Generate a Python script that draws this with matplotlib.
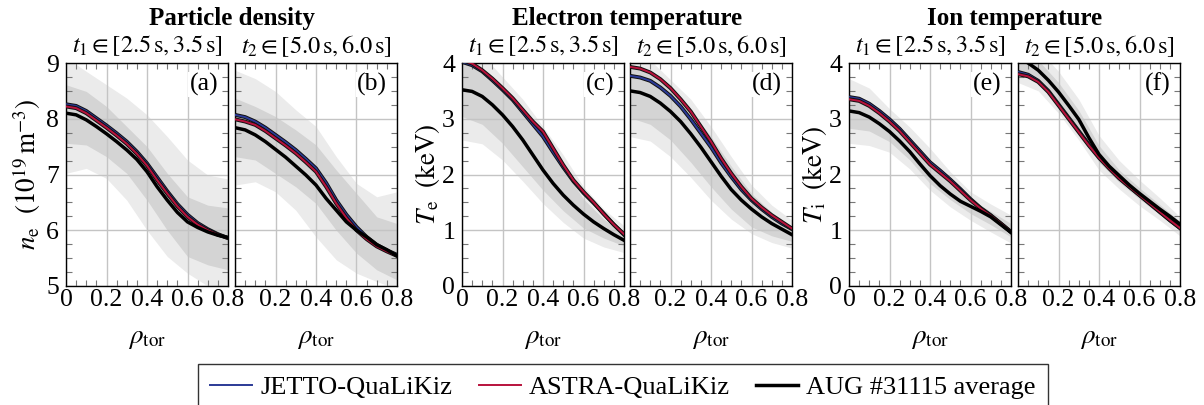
import numpy as np
import matplotlib
matplotlib.use("Agg")
import matplotlib.pyplot as plt
import matplotlib.patheffects as pe
from matplotlib.lines import Line2D
from matplotlib.ticker import MultipleLocator

# Font tipo Times per testo e formule
plt.rcParams['font.family'] = 'serif'
plt.rcParams['font.serif'] = ['Liberation Serif', 'DejaVu Serif']
plt.rcParams['mathtext.fontset'] = 'stix'

# Griglia radiale
rho = [0.0, 0.05, 0.1, 0.15, 0.2, 0.25, 0.3, 0.35, 0.4, 0.45, 0.5, 0.55, 0.6, 0.65, 0.7, 0.75, 0.8]
rho_band = [0.0, 0.1, 0.2, 0.3, 0.4, 0.5, 0.6, 0.7, 0.8]

# (a) densita', t1
ne1_jetto = [8.26, 8.23, 8.14, 8.01, 7.88, 7.74, 7.59, 7.41, 7.20, 6.95, 6.70, 6.47, 6.28, 6.13, 6.02, 5.93, 5.86]
ne1_astra = [8.22, 8.19, 8.10, 7.97, 7.84, 7.70, 7.55, 7.37, 7.16, 6.90, 6.66, 6.43, 6.24, 6.10, 6.00, 5.92, 5.86]
ne1_aug = [8.10, 8.07, 7.98, 7.86, 7.73, 7.59, 7.44, 7.27, 7.05, 6.78, 6.54, 6.32, 6.15, 6.05, 5.97, 5.91, 5.87]
ne1_out_hi = [9.10, 8.85, 8.61, 8.37, 8.07, 7.68, 7.26, 6.99, 6.92]
ne1_in_hi = [8.61, 8.49, 8.22, 7.86, 7.50, 7.02, 6.60, 6.45, 6.40]
ne1_in_lo = [7.56, 7.53, 7.32, 7.02, 6.54, 6.00, 5.53, 5.38, 5.29]
ne1_out_lo = [7.02, 7.11, 6.93, 6.54, 6.00, 5.53, 5.23, 5.00, 4.80]

# (b) densita', t2
ne2_jetto = [8.07, 8.03, 7.95, 7.84, 7.71, 7.58, 7.44, 7.28, 7.11, 6.85, 6.54, 6.28, 6.06, 5.88, 5.74, 5.64, 5.56]
ne2_astra = [7.99, 7.95, 7.89, 7.78, 7.65, 7.52, 7.38, 7.22, 7.05, 6.78, 6.48, 6.22, 6.00, 5.84, 5.71, 5.62, 5.54]
ne2_aug = [7.84, 7.80, 7.71, 7.59, 7.45, 7.31, 7.15, 6.99, 6.81, 6.57, 6.36, 6.15, 6.00, 5.88, 5.74, 5.65, 5.54]
ne2_out_hi = [8.87, 8.72, 8.49, 8.16, 7.86, 7.32, 6.84, 6.60, 6.69]
ne2_in_hi = [8.37, 8.22, 8.04, 7.80, 7.53, 7.08, 6.66, 6.24, 6.12]
ne2_in_lo = [7.32, 7.26, 7.02, 6.78, 6.48, 6.00, 5.59, 5.29, 5.11]
ne2_out_lo = [6.81, 6.87, 6.69, 6.36, 5.88, 5.47, 5.23, 5.08, 4.95]

# (c) temperatura elettronica, t1
te1_jetto = [4.02, 3.96, 3.85, 3.69, 3.52, 3.34, 3.12, 2.90, 2.68, 2.40, 2.13, 1.88, 1.67, 1.49, 1.30, 1.10, 0.92]
te1_astra = [4.05, 3.99, 3.87, 3.72, 3.55, 3.37, 3.16, 2.95, 2.77, 2.47, 2.17, 1.90, 1.69, 1.50, 1.29, 1.10, 0.93]
te1_aug = [3.52, 3.49, 3.40, 3.25, 3.07, 2.86, 2.62, 2.35, 2.08, 1.84, 1.63, 1.45, 1.29, 1.15, 1.03, 0.92, 0.82]
te1_out_hi = [4.30, 4.15, 3.75, 3.35, 2.86, 2.35, 1.78, 1.38, 1.08]
te1_in_hi = [4.05, 3.90, 3.52, 3.10, 2.62, 2.10, 1.56, 1.20, 0.94]
te1_in_lo = [3.04, 2.90, 2.56, 2.14, 1.72, 1.35, 1.04, 0.86, 0.72]
te1_out_lo = [2.62, 2.55, 2.26, 1.88, 1.48, 1.14, 0.86, 0.70, 0.60]

# (d) temperatura elettronica, t2
te2_jetto = [3.77, 3.74, 3.68, 3.56, 3.41, 3.22, 2.99, 2.74, 2.49, 2.21, 1.96, 1.73, 1.54, 1.38, 1.24, 1.12, 1.02]
te2_astra = [3.93, 3.90, 3.83, 3.71, 3.55, 3.35, 3.13, 2.86, 2.59, 2.29, 2.02, 1.78, 1.57, 1.41, 1.27, 1.15, 1.03]
te2_aug = [3.50, 3.47, 3.40, 3.28, 3.13, 2.95, 2.73, 2.49, 2.23, 1.97, 1.73, 1.54, 1.38, 1.24, 1.12, 1.02, 0.92]
te2_out_hi = [4.25, 4.05, 3.70, 3.35, 2.86, 2.32, 1.81, 1.45, 1.18]
te2_in_hi = [3.95, 3.80, 3.55, 3.15, 2.68, 2.15, 1.66, 1.32, 1.06]
te2_in_lo = [3.02, 2.90, 2.62, 2.22, 1.78, 1.38, 1.06, 0.90, 0.80]
te2_out_lo = [2.68, 2.60, 2.32, 1.95, 1.54, 1.20, 0.94, 0.78, 0.68]

# (e) temperatura ionica, t1
ti1_jetto = [3.39, 3.36, 3.27, 3.14, 2.99, 2.82, 2.62, 2.42, 2.22, 2.07, 1.91, 1.74, 1.56, 1.40, 1.27, 1.12, 0.97]
ti1_astra = [3.35, 3.32, 3.23, 3.10, 2.95, 2.78, 2.58, 2.38, 2.18, 2.03, 1.88, 1.71, 1.54, 1.39, 1.26, 1.12, 0.97]
ti1_aug = [3.14, 3.11, 3.03, 2.91, 2.77, 2.60, 2.41, 2.19, 1.98, 1.80, 1.65, 1.52, 1.43, 1.34, 1.24, 1.10, 0.96]
ti1_out_hi = [3.72, 3.55, 3.18, 2.85, 2.47, 2.05, 1.69, 1.47, 1.27]
ti1_in_hi = [3.37, 3.25, 2.95, 2.62, 2.25, 1.88, 1.56, 1.34, 1.12]
ti1_in_lo = [2.83, 2.78, 2.59, 2.26, 1.84, 1.55, 1.30, 1.10, 0.88]
ti1_out_lo = [2.56, 2.52, 2.40, 2.10, 1.72, 1.42, 1.18, 0.97, 0.77]

# (f) temperatura ionica, t2
ti2_jetto = [3.84, 3.79, 3.68, 3.50, 3.26, 3.02, 2.78, 2.54, 2.32, 2.12, 1.94, 1.78, 1.63, 1.48, 1.33, 1.18, 1.04]
ti2_astra = [3.80, 3.76, 3.66, 3.48, 3.24, 3.00, 2.76, 2.52, 2.30, 2.11, 1.93, 1.78, 1.63, 1.48, 1.33, 1.18, 1.04]
ti2_aug = [4.10, 4.00, 3.87, 3.69, 3.48, 3.24, 2.99, 2.66, 2.36, 2.15, 1.98, 1.81, 1.66, 1.52, 1.38, 1.25, 1.11]
ti2_out_hi = [4.45, 4.25, 3.85, 3.35, 2.70, 2.25, 1.90, 1.58, 1.24]
ti2_in_hi = [4.25, 4.05, 3.65, 3.15, 2.52, 2.08, 1.76, 1.46, 1.16]
ti2_in_lo = [3.85, 3.70, 3.30, 2.80, 2.22, 1.86, 1.56, 1.28, 1.00]
ti2_out_lo = [3.65, 3.50, 3.10, 2.62, 2.08, 1.74, 1.44, 1.18, 0.90]

COL_JETTO = '#2b3a96'
COL_ASTRA = '#b8123c'
COL_LIGHT = '#ebebeb'
COL_DARK = '#d4d4d4'

pannelli = [
    ("(a)", ne1_jetto, ne1_astra, ne1_aug, ne1_out_hi, ne1_in_hi, ne1_in_lo, ne1_out_lo, (5, 9)),
    ("(b)", ne2_jetto, ne2_astra, ne2_aug, ne2_out_hi, ne2_in_hi, ne2_in_lo, ne2_out_lo, (5, 9)),
    ("(c)", te1_jetto, te1_astra, te1_aug, te1_out_hi, te1_in_hi, te1_in_lo, te1_out_lo, (0, 4)),
    ("(d)", te2_jetto, te2_astra, te2_aug, te2_out_hi, te2_in_hi, te2_in_lo, te2_out_lo, (0, 4)),
    ("(e)", ti1_jetto, ti1_astra, ti1_aug, ti1_out_hi, ti1_in_hi, ti1_in_lo, ti1_out_lo, (0, 4)),
    ("(f)", ti2_jetto, ti2_astra, ti2_aug, ti2_out_hi, ti2_in_hi, ti2_in_lo, ti2_out_lo, (0, 4)),
]
lefts = [66, 235, 462, 630, 849, 1018]
ylabels = [r'$n_\mathrm{e}\ \ (10^{19}\,\mathrm{m}^{-3})$', r'$T_\mathrm{e}\ \ (\mathrm{keV})$', r'$T_\mathrm{i}\ \ (\mathrm{keV})$']
titoli = ['Particle density', 'Electron temperature', 'Ion temperature']
sottotitoli = [r'$t_1 \in [2.5\,\mathrm{s}, 3.5\,\mathrm{s}]$', r'$t_2 \in [5.0\,\mathrm{s}, 6.0\,\mathrm{s}]$']

W, H = 1204, 405
fig = plt.figure(figsize=(W / 100, H / 100), dpi=100)
FS = 18.5

contorno = [pe.Stroke(linewidth=2.8, foreground='#111111'), pe.Normal()]

for i, (lab, jet, ast, aug, ohi, ihi, ilo, olo, ylim) in enumerate(pannelli):
    ax = fig.add_axes([lefts[i] / W, (H - 286) / H, 162 / W, 223 / H])
    ax.fill_between(rho_band, olo, ohi, color=COL_LIGHT, lw=0, zorder=0.5)
    ax.fill_between(rho_band, ilo, ihi, color=COL_DARK, lw=0, zorder=0.6)
    ax.plot(rho, jet, color=COL_JETTO, lw=1.4, path_effects=contorno, zorder=3)
    ax.plot(rho, ast, color=COL_ASTRA, lw=1.4, path_effects=contorno, zorder=3.1)
    ax.plot(rho, aug, color='black', lw=2.5, zorder=3.2)
    ax.set_xlim(0, 0.8)
    ax.set_ylim(*ylim)
    ax.grid(True, which='major', color='#c4c4c4', lw=1.0)
    ax.xaxis.set_minor_locator(MultipleLocator(0.05))
    ax.yaxis.set_minor_locator(MultipleLocator(0.25))
    ax.tick_params(which='both', direction='in', top=True, right=True, labelsize=FS, color='#777777')
    ax.tick_params(which='major', length=0)
    ax.tick_params(axis='x', which='major', pad=2)
    ax.tick_params(axis='y', which='major', pad=5)
    ax.tick_params(which='minor', length=4, width=0.8)
    for s in ax.spines.values():
        s.set_linewidth(1.0)
    ax.set_xticks([0, 0.2, 0.4, 0.6, 0.8])
    ax.set_yticks(list(range(ylim[0], ylim[1] + 1)))
    if i % 2 == 0:
        ax.set_xticklabels(['0', '0.2', '0.4', '0.6', '0.8'])
        ax.set_yticklabels([str(v) for v in range(ylim[0], ylim[1] + 1)])
        ax.set_ylabel(ylabels[i // 2], fontsize=FS + 1, labelpad=0 if i > 0 else 2)
    else:
        ax.set_xticklabels(['', '0.2', '0.4', '0.6', '0.8'])
        ax.set_yticklabels([])
    ax.set_xlabel(r'$\rho_\mathrm{tor}$', fontsize=FS + 1, labelpad=11)
    ax.text(0.94, 0.955, lab, transform=ax.transAxes, ha='right', va='top', fontsize=FS,
            bbox=dict(boxstyle='square,pad=0.05', fc='white', ec='none'))
    # sottotitolo intervallo temporale
    cx = (lefts[i] + 81) / W
    fig.text(cx, 1 - 46 / H, sottotitoli[i % 2], ha='center', va='center', fontsize=17.5)

# titoli dei gruppi
for k in range(3):
    cx = (lefts[2 * k] + lefts[2 * k + 1] + 162) / 2 / W
    fig.text(cx, 1 - 18 / H, titoli[k], ha='center', va='center', fontsize=18, fontweight='bold')

handles = [Line2D([], [], color=COL_JETTO, lw=1.4),
           Line2D([], [], color=COL_ASTRA, lw=1.4),
           Line2D([], [], color='black', lw=2.5)]
fig.legend(handles, ['JETTO-QuaLiKiz', 'ASTRA-QuaLiKiz', 'AUG #31115 average'],
           loc='upper center', bbox_to_anchor=(623 / W, 1 - 364 / H), ncol=3, fontsize=19,
           frameon=True, fancybox=False, edgecolor='#333333', framealpha=1,
           handlelength=1.6, handletextpad=0.3, columnspacing=1.0, borderpad=0.45, borderaxespad=0)

fig.savefig('out.png', dpi=100)
